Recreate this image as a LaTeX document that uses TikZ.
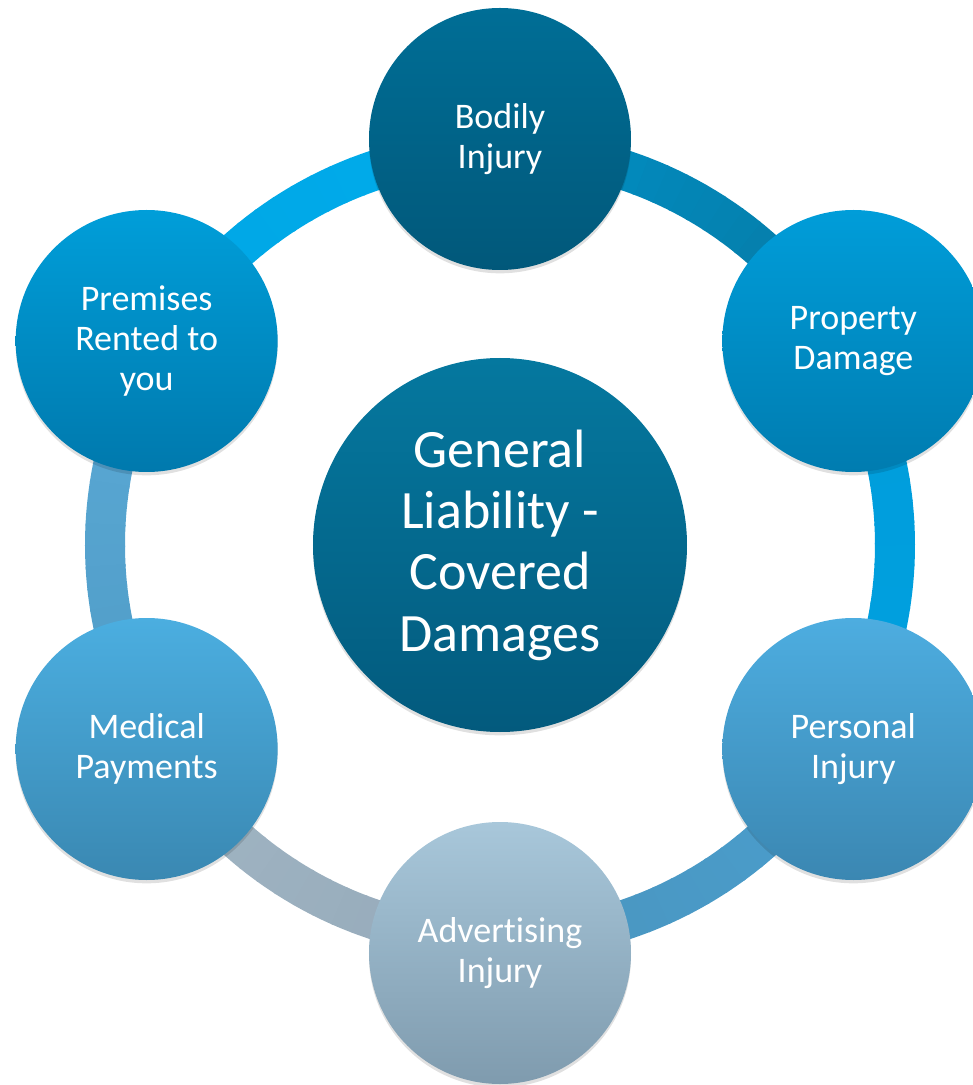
\documentclass[tikz,border=0pt]{standalone}
\usepackage{fontspec}
\setmainfont[Ligatures=NoCommon]{Carlito}
\usetikzlibrary{shadows}
\definecolor{rA}{HTML}{00ACEC}
\definecolor{rB}{HTML}{00A6E4}
\definecolor{rC}{HTML}{5BAAD6}
\definecolor{rD}{HTML}{4F9BC6}
\definecolor{rE}{HTML}{A2B6C4}
\definecolor{rF}{HTML}{94A9B9}
\definecolor{rG}{HTML}{4A94BE}
\definecolor{rH}{HTML}{4A9FCE}
\definecolor{rI}{HTML}{00A0DF}
\definecolor{rJ}{HTML}{009DDB}
\definecolor{rK}{HTML}{0779A3}
\definecolor{rL}{HTML}{0090C6}
\definecolor{biT}{HTML}{006E96}
\definecolor{biB}{HTML}{01587A}
\definecolor{pdT}{HTML}{009DD9}
\definecolor{pdB}{HTML}{007CB0}
\definecolor{piT}{HTML}{4DADE0}
\definecolor{piB}{HTML}{3B87B2}
\definecolor{adT}{HTML}{A8C7DA}
\definecolor{adB}{HTML}{7F9BAE}
\definecolor{mpT}{HTML}{4BAEE0}
\definecolor{mpB}{HTML}{3A88B2}
\definecolor{prT}{HTML}{009ED9}
\definecolor{prB}{HTML}{0079AD}
\definecolor{ctT}{HTML}{05789F}
\definecolor{ctB}{HTML}{035A7D}
\begin{document}
\begin{tikzpicture}[x=0.75pt,y=0.75pt,
  ringseg/.style={line width=30pt, line cap=butt},
  bubble/.style={circle, inner sep=0pt, align=center, text=white,
    drop shadow={shadow xshift=0pt, shadow yshift=-2.5pt, opacity=0.12, fill=black}},
  sat/.style={bubble, minimum size=196.5pt, font=\fontsize{27}{30}\selectfont},
  hub/.style={bubble, minimum size=280.5pt, font=\fontsize{40.5}{46}\selectfont}]
\useasboundingbox (-500,-540) rectangle (473,545);
% ring
\foreach \a/\b/\ca/\cb in {90/150/rA/rB, 150/210/rC/rD, 210/270/rE/rF, 270/330/rG/rH, 330/390/rI/rJ, 30/90/rK/rL}{
  \foreach \i in {0,...,19}{
    \pgfmathsetmacro\s{\a+(\b-\a)*\i/20}
    \pgfmathsetmacro\p{100*(\i+0.5)/20}
    \draw[ringseg, draw=\cb!\p!\ca] (\s:395) arc[start angle=\s, end angle=\s+3.3, radius=395];
  }
}
\node[hub, top color=ctT, bottom color=ctB] (center) at (0,0) {General\\Liability -\\Covered\\Damages};
\node[sat, top color=biT, bottom color=biB] (bodily) at (90:406) {Bodily\\Injury};
\node[sat, top color=pdT, bottom color=pdB] (property) at (30:408) {Property\\Damage};
\node[sat, top color=piT, bottom color=piB] (personal) at (-30:408) {Personal\\Injury};
\node[sat, top color=adT, bottom color=adB] (advertising) at (-90:408) {Advertising\\Injury};
\node[sat, top color=mpT, bottom color=mpB] (medical) at (-150:408) {Medical\\Payments};
\node[sat, top color=prT, bottom color=prB] (premises) at (150:408) {Premises\\Rented to\\you};
\end{tikzpicture}
\end{document}
